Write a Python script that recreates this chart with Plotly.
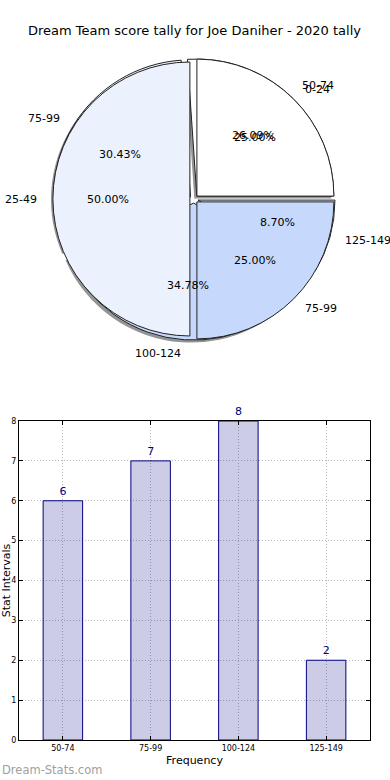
import math
import plotly.graph_objects as go

# ---- data ----
title_text = "Dream Team score tally for Joe Daniher - 2020 tally"
pie_a_labels = ["0-24", "25-49", "75-99"]
pie_a_values = [1, 2, 1]
pie_b_labels = ["50-74", "75-99", "100-124", "125-149"]
pie_b_values = [6, 7, 8, 2]
bar_categories = ["50-74", "75-99", "100-124", "125-149"]
bar_values = [6, 7, 8, 2]

# ---- geometry / style ----
W, H = 390, 780
ML, MR, MT, MB = 19, 20, 0, 40
PW, PH = W - ML - MR, H - MT - MB
CX, CY = 194, 199          # pie centre in pixels
R = 137                    # pie radius in pixels
PULL = 0.03
pie_a_colors = ["#ffffff", "#ebf1fd", "#c6d9fd"]
pie_b_colors = ["#ffffff", "#ebf1fd", "#c6d9fd", "#ebf1fd"]
navy = "#000080"
FONT = "DejaVu Sans"

half = R * (1 + PULL)
def dom_x(cx):
    return [(cx - half - ML) / PW, (cx + half - ML) / PW]
def dom_y(cy):
    return [(H - MB - (cy + half)) / PH, (H - MB - (cy - half)) / PH]

def start_at_3_oclock(values):
    # plotly (counterclockwise): first slice spans [rotation, rotation + its angle] clockwise from 12
    return 90 - 360 * values[0] / sum(values)

fig = go.Figure()

# shadow
fig.add_trace(go.Pie(values=pie_b_values, labels=pie_b_labels, sort=False,
                     direction="counterclockwise", rotation=start_at_3_oclock(pie_b_values),
                     pull=[PULL] * len(pie_b_values),
                     marker=dict(colors=["rgba(60,60,60,0.55)"] * 4, line=dict(width=0)),
                     textinfo="none", hoverinfo="skip", showlegend=False,
                     domain=dict(x=dom_x(CX - 2.5), y=dom_y(CY + 2.5))))
# underlying pie
fig.add_trace(go.Pie(values=pie_b_values, labels=pie_b_labels, sort=False,
                     direction="counterclockwise", rotation=start_at_3_oclock(pie_b_values),
                     pull=[PULL] * len(pie_b_values),
                     marker=dict(colors=pie_b_colors, line=dict(color="#222", width=1)),
                     textinfo="none", showlegend=False,
                     domain=dict(x=dom_x(CX), y=dom_y(CY))))
# top pie
fig.add_trace(go.Pie(values=pie_a_values, labels=pie_a_labels, sort=False,
                     direction="counterclockwise", rotation=start_at_3_oclock(pie_a_values),
                     pull=[PULL] * len(pie_a_values),
                     marker=dict(colors=pie_a_colors, line=dict(color="#222", width=1)),
                     textinfo="none", showlegend=False,
                     domain=dict(x=dom_x(CX), y=dom_y(CY))))

def pie_annotations(labels, values):
    anns = []
    total = sum(values)
    start = 0.0
    for lab, v in zip(labels, values):
        frac = v / total
        mid = (start + frac / 2) * 2 * math.pi
        start += frac
        c, s = math.cos(mid), math.sin(mid)
        lx = CX + (1.1 + PULL) * R * c
        ly = CY - (1.1 + PULL) * R * s
        anns.append(dict(x=(lx - ML) / PW, y=(H - MB - ly) / PH, xref="paper", yref="paper",
                         text=lab, showarrow=False,
                         xanchor="left" if c > 0 else "right", yanchor="middle",
                         font=dict(family=FONT, size=11, color="black")))
        px_ = CX + (0.6 + PULL) * R * c
        py_ = CY - (0.6 + PULL) * R * s
        anns.append(dict(x=(px_ - ML) / PW, y=(H - MB - py_) / PH, xref="paper", yref="paper",
                         text=f"{frac * 100:.2f}%", showarrow=False,
                         xanchor="center", yanchor="middle",
                         font=dict(family=FONT, size=11, color="black")))
    return anns

annotations = pie_annotations(pie_b_labels, pie_b_values) + pie_annotations(pie_a_labels, pie_a_values)

# bar chart
fig.add_trace(go.Bar(x=bar_categories, y=bar_values, width=0.45,
                     marker=dict(color="rgba(0,0,128,0.2)", line=dict(color=navy, width=1)),
                     text=[str(v) for v in bar_values], textposition="outside",
                     textfont=dict(family=FONT, size=11, color=navy),
                     cliponaxis=False, showlegend=False, hoverinfo="x+y"))

bar_top_px = 421
grid_style = dict(showgrid=True, gridcolor="#b8b8b8", griddash="1px,2px", gridwidth=1)
fig.update_layout(
    width=W, height=H,
    margin=dict(l=ML, r=MR, t=MT, b=MB, autoexpand=False),
    paper_bgcolor="white", plot_bgcolor="white",
    font=dict(family=FONT, color="black"),
    title=dict(text=title_text, x=0.5, xanchor="center", xref="paper",
               y=1 - 30 / H, yanchor="middle", yref="container",
               font=dict(family=FONT, size=13, color="black")),
    xaxis=dict(type="category", range=[-0.5, 3.5], domain=[0, 1], automargin=False,
               showline=True, linecolor="black", linewidth=1, mirror="ticks",
               ticks="inside", ticklen=4, tickcolor="black", **grid_style,
               tickfont=dict(family=FONT, size=8, color="black"),
               title=dict(text="Frequency", font=dict(family=FONT, size=11), standoff=4)),
    yaxis=dict(range=[0, 8], domain=[0, (H - MB - bar_top_px) / PH], dtick=1, automargin=False,
               showline=True, linecolor="black", linewidth=1, mirror="ticks",
               ticks="inside", ticklen=4, tickcolor="black", **grid_style,
               zeroline=False,
               tickfont=dict(family=FONT, size=8, color="black"),
               title=dict(text="Stat Intervals", font=dict(family=FONT, size=11), standoff=2)),
    annotations=annotations + [
        dict(text="Dream-Stats.com", x=0, y=0, xref="paper", yref="paper",
             xanchor="left", yanchor="middle", yshift=-30, xshift=-ML,
             showarrow=False, font=dict(family=FONT, size=11.5, color="#a0a0a0"))
    ],
)

fig.write_html("out.html", config={"displayModeBar": False},
               post_script="document.body.style.margin='0';")
